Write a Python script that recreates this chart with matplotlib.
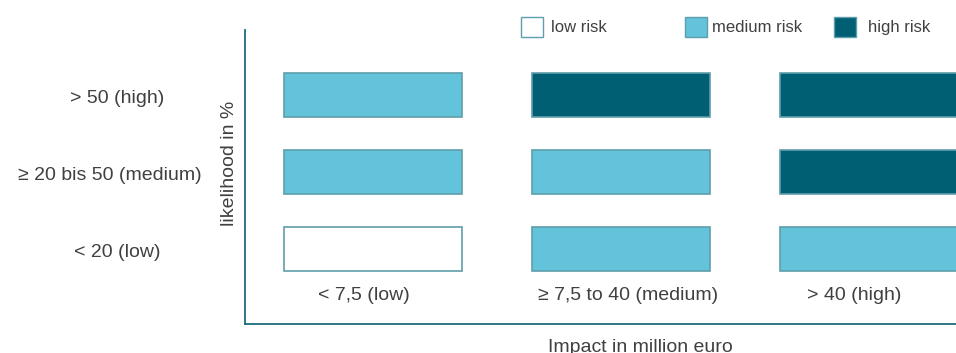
import matplotlib.pyplot as plt
from matplotlib.patches import Rectangle
from matplotlib.transforms import blended_transform_factory

plt.rcParams["font.family"] = ["Liberation Sans", "DejaVu Sans"]

# risk matrix: rows = likelihood (low -> high), cols = impact (low -> high)
IMPACT_LABELS = ["< 7,5 (low)", "≥ 7,5 to 40 (medium)", "> 40 (high)"]
LIKELIHOOD_LABELS = ["< 20 (low)", "≥ 20 bis 50 (medium)", "> 50 (high)"]
RISK_ROW_LOW = ["low", "medium", "medium"]
RISK_ROW_MEDIUM = ["medium", "medium", "high"]
RISK_ROW_HIGH = ["medium", "high", "high"]
RISK_LEVELS = ["low", "medium", "high"]
LEGEND_LABELS = ["low risk", "medium risk", "high risk"]

COLORS = {
    "low": "#ffffff",
    "medium": "#62c3da",
    "high": "#005f73",
    "edge": "#5f9eac",
    "axis": "#1d6d7e",
    "ink": "#404040",
}

fig = plt.figure(figsize=(9.56, 3.53), dpi=100)
fig.patch.set_facecolor("white")
W, H = 956, 353
ax = fig.add_axes([245 / W, 1 - 324 / H, (956 - 245) / W, (324 - 30) / H])

rows = [RISK_ROW_LOW, RISK_ROW_MEDIUM, RISK_ROW_HIGH]
bar_w, bar_h = 0.72, 0.56
for r, row in enumerate(rows):
    for c, level in enumerate(row):
        ax.bar(c, bar_h, bottom=r - bar_h / 2, width=bar_w,
               color=COLORS[level], edgecolor=COLORS["edge"], linewidth=1.2, clip_on=True)

ax.set_xlim(-0.516, 2.351)
ax.set_ylim(-0.974, 2.844)
ax.set_xticks([])
ax.set_yticks([])
for s in ["top", "right"]:
    ax.spines[s].set_visible(False)
for s in ["left", "bottom"]:
    ax.spines[s].set_color(COLORS["axis"])
    ax.spines[s].set_linewidth(1.3)

FS = 14

# impact labels inside plot, below the bars
x_off = [-0.035, 0.03, -0.06]
for c, lab in enumerate(IMPACT_LABELS):
    ax.text(c + x_off[c], -0.6, lab, ha="center", va="center", fontsize=FS, color=COLORS["ink"])

# likelihood labels to the left of the axes
trans = blended_transform_factory(fig.transFigure, ax.transData)
for r, lab in enumerate(LIKELIHOOD_LABELS):
    xc = 110 / W if r == 1 else 117 / W
    ax.text(xc, r - 0.04, lab, transform=trans, ha="center", va="center",
            fontsize=FS, color=COLORS["ink"])

fig.text(230 / W, 1 - 163 / H, "likelihood in %", rotation=90, ha="center", va="center",
         fontsize=FS, color=COLORS["ink"])
fig.text(640 / W, 1 - 347 / H, "Impact in million euro", ha="center", va="center",
         fontsize=FS, color=COLORS["ink"])

# legend
box_x = [521, 685, 834]
text_x = [551, 712, 868]
for level, label, bx, tx in zip(RISK_LEVELS, LEGEND_LABELS, box_x, text_x):
    fig.patches.append(Rectangle((bx / W, 1 - 37 / H), 22 / W, 20 / H, transform=fig.transFigure,
                                 facecolor=COLORS[level], edgecolor=COLORS["edge"], linewidth=1.0))
    fig.text(tx / W, 1 - 27.5 / H, label, ha="left", va="center", fontsize=12, color=COLORS["ink"])

fig.savefig("out.png", dpi=100, facecolor="white")
